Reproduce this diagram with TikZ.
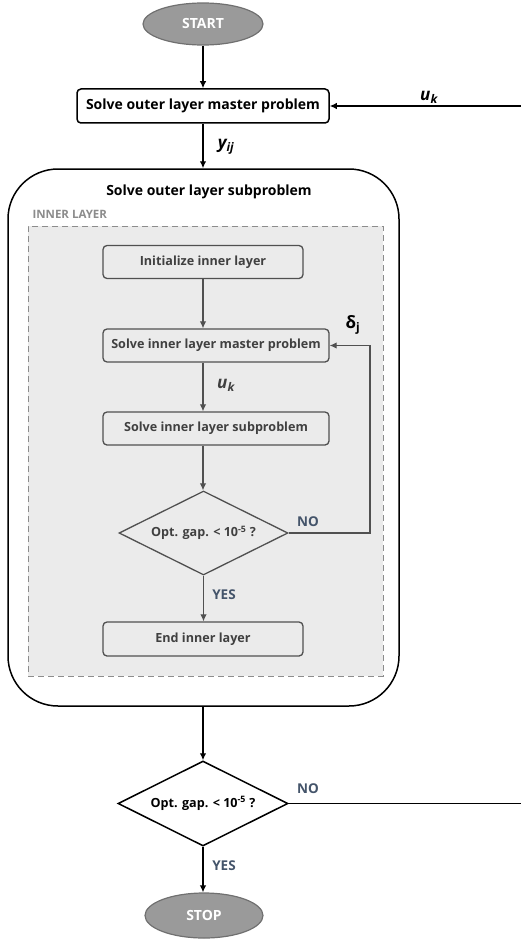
\documentclass[tikz,border=0pt]{standalone}
\usepackage{fontspec}
\setmainfont{Open Sans}
\usetikzlibrary{shapes.geometric,arrows.meta}
\definecolor{innerfill}{HTML}{EBEBEB}
\definecolor{innerdraw}{HTML}{505050}
\definecolor{innertext}{HTML}{404040}
\definecolor{termfill}{HTML}{9A9A9A}
\definecolor{termdraw}{HTML}{707070}
\definecolor{yesno}{HTML}{44546A}
\definecolor{dashcol}{HTML}{8C8C8C}
\begin{document}
\begin{tikzpicture}[x=1pt,y=-1pt,
  every node/.style={font=\bfseries\fontsize{14}{16}\selectfont},
  term/.style={ellipse,draw=termdraw,fill=termfill,line width=1.2pt,text=white,inner sep=0pt,font=\bfseries\fontsize{14}{16}\selectfont},
  obox/.style={draw=black,line width=1.5pt,rounded corners=4pt,fill=white,inner sep=0pt,minimum width=252pt,minimum height=34pt},
  ibox/.style={draw=innerdraw,line width=1.3pt,rounded corners=4pt,fill=innerfill,inner sep=0pt,minimum height=33pt,text=innertext,font=\bfseries\fontsize{12.6}{15}\selectfont},
  odia/.style={diamond,draw=black,line width=1.5pt,fill=white,inner sep=0pt,minimum width=170pt,minimum height=85pt},
  idia/.style={diamond,draw=innerdraw,line width=1.3pt,fill=innerfill,inner sep=0pt,minimum width=169pt,minimum height=84pt},
  oarr/.style={draw=black,line width=1.3pt,-{Latex[length=7pt,width=6.5pt]}},
  iarr/.style={draw=innerdraw,line width=1.2pt,-{Latex[length=7pt,width=6.5pt]}},
  oline/.style={draw=black,line width=1.3pt},
  yn/.style={text=yesno,font=\bfseries\fontsize{13.5}{16}\selectfont},
  var/.style={font=\bfseries\itshape\fontsize{17}{19}\selectfont},
  diatext/.style={font=\bfseries\fontsize{12.6}{15}\selectfont}
]
\useasboundingbox (0,0) rectangle (521,939);
% outer flow
\node[term,minimum width=120pt,minimum height=42pt] (start) at (203,24) {START};
\node[obox] (omp) at (203,106) {Solve outer layer master problem};
\node[draw=black,line width=1.5pt,rounded corners=50pt,fill=white,minimum width=391pt,minimum height=537pt] (osp) at (203.5,437.5) {};
\node (osptitle) at (209,192) {Solve outer layer subproblem};
\node[anchor=west,text=dashcol,font=\bfseries\fontsize{11.5}{13}\selectfont] (innerlbl) at (29,214) {INNER LAYER};
\node[draw=dashcol,dash pattern=on 6pt off 4pt,line width=1pt,fill=innerfill,minimum width=355pt,minimum height=450pt,inner sep=0pt] (inner) at (205.5,451) {};
% inner flow
\node[ibox,minimum width=200pt] (init) at (203,262) {Initialize inner layer};
\node[ibox,minimum width=226pt] (imp) at (216,345.5) {Solve inner layer master problem};
\node[ibox,minimum width=226pt] (isp) at (216,428.5) {Solve inner layer subproblem};
\node[idia,label={[text=innertext,diatext]center:Opt. gap. < 10\textsuperscript{-5} ?}] (dia1) at (203.5,533) {};
\node[ibox,minimum width=200pt,minimum height=34pt] (iend) at (203,639) {End inner layer};
\node[odia,label={[diatext]center:Opt. gap. < 10\textsuperscript{-5} ?}] (dia2) at (203,803.5) {};
\node[term,minimum width=118pt,minimum height=45pt] (stop) at (204,915.5) {STOP};
% coordinates
\coordinate (ukin) at (521,106);
\coordinate (noout) at (521,803.5);
\coordinate (fbx) at (370,0);
% connectors
\draw[oarr] (start.south) -- (start.south |- omp.north);
\draw[oarr] (ukin) -- (omp.east);
\draw[oarr] (omp.south) -- (omp.south |- osp.north);
\draw[iarr] (init.south) -- (init.south |- imp.north);
\draw[iarr] (init.south |- imp.south) -- (init.south |- isp.north);
\draw[iarr] (init.south |- isp.south) -- (init.south |- dia1.north);
\draw[iarr] (dia1.south) -- (dia1.south |- iend.north);
\draw[iarr] (dia1.east) -- (dia1.east -| fbx) |- (imp.east);
\draw[oarr] (dia2.north |- osp.south) -- (dia2.north);
\draw[oline] (dia2.east) -- (noout);
\draw[oarr] (dia2.south) -- (dia2.south |- stop.north);
% labels
\node[var] (uklbl) at (429,97) {u\textsubscript{k}};
\node[var] (yijlbl) at (226,147) {y\textsubscript{ij}};
\node[font=\bfseries\fontsize{17}{19}\selectfont] (dlbl) at (353,325) {δ\textsubscript{j}};
\node[var,text=innertext] (ukinner) at (226,385) {u\textsubscript{k}};
\node[yn] (no1) at (308,522) {NO};
\node[yn] (yes1) at (224,595) {YES};
\node[yn] (no2) at (308,789) {NO};
\node[yn] (yes2) at (224,866) {YES};
\end{tikzpicture}
\end{document}
